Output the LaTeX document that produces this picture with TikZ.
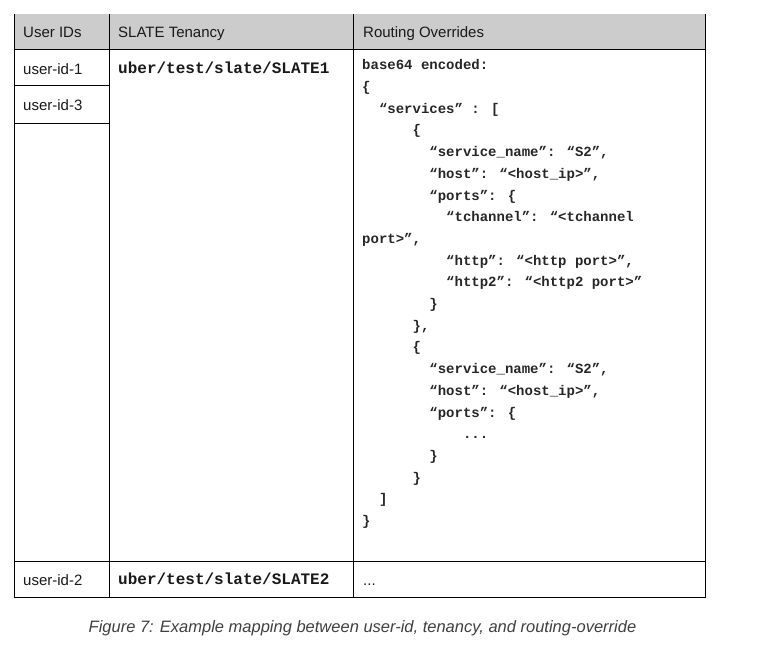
\documentclass[tikz,border=0pt]{standalone}
\usepackage{fontspec}
\setmainfont{Liberation Sans}
\newfontfamily\codefont{Liberation Mono}
\newcommand{\ind}[1]{\hspace*{#1\fontdimen2\font}}

\begin{document}
\begin{tikzpicture}[x=1pt, y=-1pt,
   every node/.style={inner sep=0pt, text=black!90},
   cell/.style={anchor=base west, font=\fontsize{15}{18}\selectfont},
   tenancy/.style={anchor=base west, font=\codefont\bfseries\fontsize{16}{18}\selectfont},
   code/.style={anchor=north west, align=left, text=black!85,
                font=\codefont\bfseries\fontsize{14}{21.7}\selectfont},
   grid/.style={draw=black, line width=0.9pt}]

\useasboundingbox (0,0) rectangle (766,645);

% header band
\fill[black!20] (14,14) rectangle (705,49);

% table rules
\draw[grid] (14,14) -- (14,597) -- (705,597) -- (705,14);
\draw[grid] (109,14) -- (109,597);
\draw[grid] (353,14) -- (353,597);
\draw[grid] (14,49) -- (705,49);
\draw[grid] (14,85) -- (109,85);
\draw[grid] (14,123) -- (109,123);
\draw[grid] (14,561) -- (705,561);

% header
\node[cell] (hdrids) at (23,37.5) {User IDs};
\node[cell] (hdrtenancy) at (118,37.5) {SLATE Tenancy};
\node[cell] (hdrrouting) at (363,37.5) {Routing Overrides};

% first row
\node[cell] (userone) at (23,74.5) {user-id-1};
\node[cell] (userthree) at (23,110) {user-id-3};
\node[tenancy] (slateone) at (118,73) {uber/test/slate/SLATE1};
\node[code] (overrides) at (362,59.5) {\rule{0pt}{10pt}base64 encoded:\\
\{\\
\ind{2}“services” : [\\
\ind{6}\{\\
\ind{8}“service\_name”: “S2”,\\
\ind{8}“host”: “<host\_ip>”,\\
\ind{8}“ports”: \{\\
\ind{10}“tchannel”: “<tchannel\\
port>”,\\
\ind{10}“http”: “<http port>”,\\
\ind{10}“http2”: “<http2 port>”\\
\ind{8}\}\\
\ind{6}\},\\
\ind{6}\{\\
\ind{8}“service\_name”: “S2”,\\
\ind{8}“host”: “<host\_ip>”,\\
\ind{8}“ports”: \{\\
\ind{12}...\\
\ind{8}\}\\
\ind{6}\}\\
\ind{2}]\\
\}};

% second row
\node[cell] (usertwo) at (23,585) {user-id-2};
\node[tenancy] (slatetwo) at (118,584) {uber/test/slate/SLATE2};
\node[cell] (moreoverrides) at (363,585) {...};

% caption
\node[anchor=base, text=black!75, font=\itshape\fontsize{16.5}{19}\selectfont] (caption)
   at (362.5,632.5) {Figure 7: Example mapping between user-id, tenancy, and routing-override};

\end{tikzpicture}
\end{document}
